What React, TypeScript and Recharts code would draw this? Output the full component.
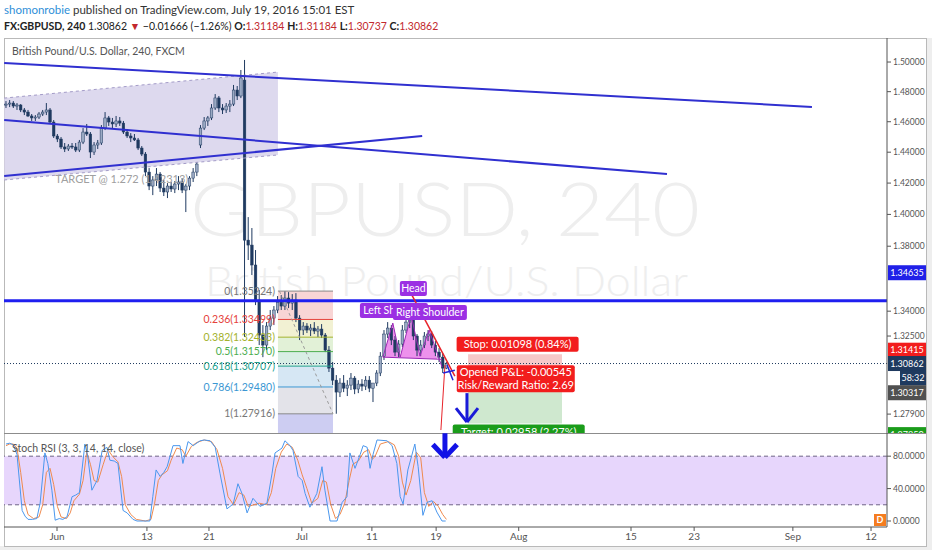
import React from 'react';
import {
  ComposedChart,
  Bar,
  Line,
  Area,
  XAxis,
  YAxis,
  ReferenceLine,
  ReferenceArea,
  ReferenceDot,
} from 'recharts';

const FONT = 'Lato, "Open Sans", sans-serif';

// 8h candles, slot = 1/3 of a trading day, from late May to Jul 19 2016
const candleOpen = [
  1.4711, 1.4717, 1.4724, 1.4704, 1.4711, 1.4678, 1.4664, 1.4638, 1.4625, 1.4631,
  1.4651, 1.4664, 1.4678, 1.4598, 1.4506, 1.4486, 1.4434, 1.4421, 1.444, 1.4434,
  1.4414, 1.4466, 1.4532, 1.4519, 1.4401, 1.4447, 1.446, 1.4558, 1.4625, 1.4598,
  1.4585, 1.4605, 1.4591, 1.4532, 1.4506, 1.4493, 1.448, 1.4427, 1.4388, 1.4271,
  1.4181, 1.422, 1.4258, 1.4168, 1.4143, 1.4181, 1.4162, 1.4194, 1.4207, 1.4155,
  1.4181, 1.4232, 1.4271, 1.4447, 1.4558, 1.4605, 1.4625, 1.4691, 1.4758, 1.4691,
  1.4678, 1.4704, 1.4717, 1.4811, 1.4771, 1.4878, 1.3838, 1.3807, 1.3683, 1.3468,
  1.3256, 1.3196, 1.331, 1.3358, 1.3407, 1.3455, 1.3431, 1.348, 1.3449, 1.3468,
  1.3358, 1.3286, 1.331, 1.3286, 1.3298, 1.328, 1.3292, 1.3256, 1.3166, 1.3059,
  1.2988, 1.2918, 1.2971, 1.2941, 1.2959, 1.3, 1.2936, 1.2965, 1.2953, 1.2988,
  1.2941, 1.2971, 1.303, 1.313, 1.3262, 1.3298, 1.3226, 1.3154, 1.3202, 1.3286,
  1.3334, 1.3346, 1.325, 1.3166, 1.3196, 1.325, 1.3262, 1.3196, 1.3154, 1.3124,
  1.3059,
];
const candleHigh = [
  1.4737, 1.4744, 1.4737, 1.4724, 1.4717, 1.4691, 1.4678, 1.4651, 1.4644, 1.4664,
  1.4678, 1.4724, 1.4691, 1.4611, 1.4519, 1.4499, 1.446, 1.4453, 1.446, 1.446,
  1.448, 1.4558, 1.4585, 1.4532, 1.4466, 1.448, 1.4578, 1.4664, 1.4638, 1.4625,
  1.4638, 1.4631, 1.4605, 1.4552, 1.4525, 1.4519, 1.4493, 1.444, 1.4401, 1.4297,
  1.4245, 1.4297, 1.4271, 1.422, 1.42, 1.4207, 1.4213, 1.4245, 1.4232, 1.4194,
  1.4245, 1.4297, 1.4336, 1.4578, 1.4631, 1.4638, 1.4717, 1.4784, 1.4771, 1.4717,
  1.4724, 1.4744, 1.4845, 1.4838, 1.4946, 1.5014, 1.3983, 1.3914, 1.3776, 1.3529,
  1.3316, 1.3334, 1.3407, 1.3431, 1.3492, 1.3498, 1.3522, 1.3516, 1.3504, 1.351,
  1.3376, 1.3334, 1.3328, 1.3322, 1.3334, 1.331, 1.3322, 1.3268, 1.319, 1.3095,
  1.3018, 1.3, 1.3018, 1.2988, 1.303, 1.3012, 1.2988, 1.2994, 1.3012, 1.3012,
  1.2965, 1.3047, 1.3154, 1.3286, 1.3334, 1.3316, 1.325, 1.3226, 1.3316, 1.3358,
  1.3376, 1.3364, 1.3262, 1.3226, 1.3274, 1.3286, 1.328, 1.322, 1.3178, 1.3148,
  1.3095,
];
const candleLow = [
  1.4691, 1.4697, 1.4691, 1.4678, 1.4664, 1.4644, 1.4631, 1.4605, 1.4605, 1.4618,
  1.4638, 1.4644, 1.4585, 1.4493, 1.4466, 1.4421, 1.4401, 1.4408, 1.4421, 1.4401,
  1.4401, 1.4453, 1.4506, 1.4362, 1.4382, 1.4421, 1.4447, 1.4545, 1.4572, 1.4558,
  1.4565, 1.4572, 1.4519, 1.4493, 1.4466, 1.4473, 1.4414, 1.4375, 1.4245, 1.4155,
  1.4123, 1.4181, 1.4143, 1.4117, 1.4104, 1.4143, 1.4136, 1.4155, 1.4136, 1.4015,
  1.4155, 1.4207, 1.4245, 1.4427, 1.4545, 1.4572, 1.4611, 1.4678, 1.4664, 1.4651,
  1.4658, 1.4664, 1.4704, 1.4744, 1.4757, 1.3244, 1.3714, 1.3621, 1.3437, 1.3196,
  1.3124, 1.3166, 1.3286, 1.3316, 1.3388, 1.3407, 1.3407, 1.3419, 1.3407, 1.3334,
  1.3226, 1.3256, 1.3268, 1.325, 1.3262, 1.3244, 1.3238, 1.3154, 1.3036, 1.2959,
  1.2792, 1.2889, 1.2918, 1.2895, 1.293, 1.2906, 1.2912, 1.2924, 1.293, 1.2918,
  1.286, 1.2953, 1.3012, 1.3107, 1.3238, 1.3196, 1.313, 1.3124, 1.3184, 1.3268,
  1.3298, 1.3226, 1.313, 1.313, 1.3178, 1.322, 1.3178, 1.313, 1.3095, 1.303,
  1.3053,
];
const candleClose = [
  1.4717, 1.4724, 1.4704, 1.4711, 1.4678, 1.4664, 1.4638, 1.4625, 1.4631, 1.4651,
  1.4664, 1.4678, 1.4598, 1.4506, 1.4486, 1.4434, 1.4421, 1.444, 1.4434, 1.4414,
  1.4466, 1.4532, 1.4519, 1.4401, 1.4447, 1.446, 1.4558, 1.4625, 1.4598, 1.4585,
  1.4605, 1.4591, 1.4532, 1.4506, 1.4493, 1.448, 1.4427, 1.4388, 1.4271, 1.4181,
  1.422, 1.4258, 1.4168, 1.4143, 1.4181, 1.4162, 1.4194, 1.4207, 1.4155, 1.4181,
  1.4232, 1.4271, 1.4323, 1.4558, 1.4605, 1.4625, 1.4691, 1.4758, 1.4691, 1.4678,
  1.4704, 1.4717, 1.4811, 1.4771, 1.4892, 1.3838, 1.3807, 1.3683, 1.3468, 1.3256,
  1.3196, 1.331, 1.3358, 1.3407, 1.3455, 1.3431, 1.348, 1.3449, 1.3468, 1.3358,
  1.3286, 1.331, 1.3286, 1.3298, 1.328, 1.3292, 1.3256, 1.3166, 1.3059, 1.2988,
  1.2918, 1.2971, 1.2941, 1.2959, 1.3, 1.2936, 1.2965, 1.2953, 1.2988, 1.2941,
  1.2971, 1.303, 1.313, 1.3262, 1.3298, 1.3226, 1.3154, 1.3202, 1.3286, 1.3334,
  1.3346, 1.325, 1.3166, 1.3196, 1.325, 1.3262, 1.3196, 1.3154, 1.3124, 1.3059,
  1.3086,
];

// Stoch RSI %K (blue) and %D (orange), [slot, value]
const stochK: [number, number][] = [
  [0, 95], [1, 96], [2, 94], [3, 82], [4.4, 13], [5.2, 6], [6, 2], [7.2, 2], [8.4, 3], [9.3, 22],
  [10.6, 84], [11.4, 71], [12.5, 38], [13.4, 1], [14.5, 3], [15.5, 2], [16.6, 5], [16.9, 10], [18, 30], [19, 32],
  [20, 35], [21.5, 95], [22.3, 79], [23.4, 38], [24.8, 50], [26.2, 87], [27.5, 91], [28.3, 75], [29.5, 74], [30.5, 71],
  [31.9, 13], [33, 10], [34.6, 2], [35.7, 0], [37.5, 0], [39.2, 0], [40, 30], [40.9, 63], [42, 55], [43, 60],
  [43.9, 67], [45.5, 93], [47.4, 93], [48.2, 71], [49.6, 98], [51, 93], [52.9, 99], [54, 100], [55.6, 99], [57, 91],
  [58.3, 59], [60.2, 15], [61.9, 21], [63.2, 46], [64.3, 34], [65.7, 10], [67.3, 28], [69.2, 18], [71.1, 22], [72.5, 59],
  [73.3, 84], [75.2, 90], [76, 99], [77.4, 93], [78.2, 87], [79.6, 55], [80.7, 50], [81.5, 34], [82.8, 17], [84.7, 34],
  [86.1, 67], [86.9, 38], [88.3, 0], [90.2, 0], [91.6, 23], [92.9, 30], [93.7, 84], [95.1, 65], [96.5, 82], [97.3, 93],
  [98.4, 91], [99.2, 65], [100, 82], [101.1, 100], [103.8, 99], [105.2, 93], [106.5, 71], [107.4, 30], [108.2, 21], [109.5, 63],
  [111.4, 95], [112.3, 67], [113.6, 7], [114.7, 23], [116.1, 25], [117.4, 11], [118.8, 0], [119.8, 0],
];
const stochD: [number, number][] = [
  [0, 93], [1, 95], [2, 95], [3, 90], [4, 60], [5, 25], [6, 8], [7.5, 3], [9, 5], [10, 20],
  [11, 60], [12, 65], [13, 45], [14, 18], [15, 5], [16.5, 3], [17.5, 10], [18.5, 25], [20, 33], [21, 50],
  [22, 85], [23, 70], [24, 50], [25, 48], [26.5, 70], [27.8, 88], [29, 80], [30.5, 73], [31.5, 55], [32.5, 20],
  [34, 8], [35.5, 2], [38, 0], [39.5, 2], [40.5, 22], [41.5, 50], [42.5, 57], [44, 62], [45, 75], [46.5, 90],
  [48, 88], [49, 80], [50.5, 92], [52, 97], [54, 100], [56, 98], [57.5, 88], [59, 65], [60.5, 30], [62, 20],
  [63.5, 35], [64.8, 32], [66, 18], [67.5, 20], [69, 22], [71, 20], [72.3, 35], [73.5, 65], [75, 85], [76.5, 95],
  [78, 91], [79.5, 75], [80.7, 57], [82, 40], [83.3, 22], [85, 28], [86.3, 50], [87.3, 48], [88.5, 20], [89.8, 3],
  [91, 8], [92.3, 22], [93.5, 50], [94.5, 70], [96, 74], [97.5, 85], [98.8, 88], [99.8, 76], [100.6, 80], [102, 95],
  [104.2, 98], [105.8, 94], [107, 80], [108, 48], [109, 32], [110.3, 50], [111.8, 85], [113, 78], [114, 35], [115.2, 18],
  [116.5, 24], [117.8, 18], [119, 8], [120, 2],
];

const timeTicks = [13.9, 38.4, 55.3, 80.6, 99.7, 117.2, 139.7, 170.3, 187.5, 214.4, 235.7];
const timeLabels = ['Jun', '13', '21', 'Jul', '11', '19', 'Aug', '15', '23', 'Sep', '12'];
const priceTicks = [1.5, 1.48, 1.46, 1.44, 1.42, 1.4, 1.38, 1.34, 1.325, 1.279];
const stochTicks = [0, 40, 80];

// drawings: [slot, price]
const trendLines: [number, number, number, number][] = [
  [-0.5, 1.4993, 219.6, 1.4698],
  [-0.5, 1.4611, 180.1, 1.4258],
  [-0.5, 1.4245, 113.4, 1.4506],
];
const channelTop: [number, number][] = [[-0.5, 1.4757], [74.1, 1.4932]];
const channelBottom: [number, number][] = [[-0.5, 1.422], [74.1, 1.4382]];
const keyLevel = 1.34635;
const lastPrice = 1.30862;

const fibRatios = ['0', '0.236', '0.382', '0.5', '0.618', '0.786', '1'];
const fibPrices = [1.35224, 1.33499, 1.32433, 1.3157, 1.30707, 1.2948, 1.27916];
const fibExt = 1.2593;
const fibColors = ['#8a8a8a', '#e5423b', '#a3b22c', '#4cae4f', '#22a18c', '#3b97d3', '#8a8a8a'];
const fibZones = ['#f8d5d5', '#f2f1d3', '#e2f1d7', '#d8eee5', '#d6e7f4', '#e3e3e9', '#cdcdf2'];
const fibFrom = 74.1;
const fibTo = 89.1;

// head & shoulders: start, left shoulder, dip, head, dip, right shoulder, end
const hsSlots = [102.7, 105.4, 107.4, 110.4, 112.8, 115.3, 118.8];
const hsPrices = [1.3124, 1.3328, 1.3124, 1.3376, 1.313, 1.3286, 1.3065];
const hsNeck = [1.3124, 1.3122, 1.3121, 1.3119, 1.3117, 1.3115, 1.3111];

const stopPrice = 1.31415;
const entryPrice = 1.30317;
const targetPrice = 1.2736;
const positionFrom = 125.9;
const positionTo = 151.5;

const candles = candleOpen.map((o, i) => ({
  i,
  o,
  h: candleHigh[i],
  l: candleLow[i],
  c: candleClose[i],
}));
const channelData = channelTop.map(([i, hi], k) => ({ i, band: [channelBottom[k][1], hi] }));
const hsFill = hsSlots.slice(0, 6).map((i, k) => ({ i, band: [hsNeck[k], hsPrices[k]] }));
hsFill.push({ i: 117.6, band: [1.3112, 1.3112] });
const hsLine = hsSlots.map((i, k) => ({ i, v: hsPrices[k] }));
const neckLine = [
  { i: hsSlots[0], v: hsNeck[0] },
  { i: hsSlots[6], v: hsNeck[6] },
];
const kData = stochK.map(([i, v]) => ({ i, v }));
const dData = stochD.map(([i, v]) => ({ i, v }));

const X_DOMAIN: [number, number] = [-0.545, 240.05];

function Candle(props: any) {
  const { x, y, width, height, payload } = props;
  if (!payload) return null;
  const { o, h, l, c } = payload;
  const yTop = Math.min(y, y + height);
  const yBot = Math.max(y, y + height);
  const span = Math.log(h) - Math.log(l) || 1;
  const py = (p: number) => yTop + ((yBot - yTop) * (Math.log(h) - Math.log(p))) / span;
  const cx = x + width / 2;
  const up = c >= o;
  const t = py(Math.max(o, c));
  const b = py(Math.min(o, c));
  return (
    <g>
      <line x1={cx} x2={cx} y1={yTop} y2={yBot} stroke="#1f3a60" strokeWidth={1} />
      <rect
        x={cx - 1.3}
        y={t}
        width={2.6}
        height={Math.max(b - t, 1)}
        fill={up ? '#9aa9c3' : '#1f3a60'}
        stroke="#1f3a60"
        strokeWidth={0.5}
      />
    </g>
  );
}

function box(lines: string[], bg: string, w: number, h: number, dy: number, fs = 11) {
  return (p: any) => {
    const cx = p.cx;
    const cy = p.cy + dy;
    return (
      <g>
        <rect x={cx - w / 2} y={cy - h / 2} width={w} height={h} rx={2} fill={bg} />
        {lines.map((t, k) => (
          <text
            key={k}
            x={cx}
            y={cy - h / 2 + ((k + 0.5) * h) / lines.length}
            dy="0.35em"
            textAnchor="middle"
            fill="#fff"
            fontSize={fs}
            fontFamily={FONT}
          >
            {t}
          </text>
        ))}
      </g>
    );
  };
}

function axisTag(text: string, bg: string, dy: number, w = 38) {
  return (p: any) => {
    const x0 = p.cx + 39 - w;
    const cy = p.cy + dy;
    return (
      <g>
        <rect x={x0} y={cy - 7.5} width={w} height={15} fill={bg} />
        <text x={x0 + w / 2} y={cy} dy="0.35em" textAnchor="middle" fill="#fff" fontSize={9} fontFamily={FONT}>
          {text}
        </text>
      </g>
    );
  };
}

function fibLabel(text: string, color: string) {
  return (p: any) => (
    <text x={p.cx - 3} y={p.cy} dy="0.35em" textAnchor="end" fill={color} fontSize={10.5} fontFamily={FONT}>
      {text}
    </text>
  );
}

const seg = (a: number, b: number, c: number, d: number) => [
  { x: a, y: b },
  { x: c, y: d },
];

function MainChart() {
  return (
    <ComposedChart width={922} height={395} data={candles} margin={{ top: 0, right: 0, bottom: 0, left: 0 }}>
      <XAxis dataKey="i" type="number" domain={X_DOMAIN} allowDataOverflow hide />
      <YAxis
        orientation="right"
        scale="log"
        domain={[1.2681, 1.5164]}
        allowDataOverflow
        ticks={priceTicks}
        interval={0}
        width={39}
        tickFormatter={(v: number) => v.toFixed(5)}
        tick={{ fontSize: 8.5, fill: '#555', fontFamily: FONT }}
        tickSize={4}
        tickLine={{ stroke: '#555' }}
        axisLine={{ stroke: '#555' }}
      />

      <Area
        data={channelData}
        dataKey="band"
        type="linear"
        stroke="none"
        fill="#d9d5ec"
        fillOpacity={0.9}
        isAnimationActive={false}
      />
      {fibZones.map((col, k) => (
        <ReferenceArea
          key={`fz${k}`}
          x1={fibFrom}
          x2={fibTo}
          y1={fibPrices[k]}
          y2={k < 6 ? fibPrices[k + 1] : fibExt}
          fill={col}
          fillOpacity={1}
          stroke="none"
          ifOverflow="hidden"
        />
      ))}
      <ReferenceArea x1={positionFrom} x2={positionTo} y1={entryPrice} y2={stopPrice} fill="#f6c9c9" fillOpacity={1} stroke="none" />
      <ReferenceArea x1={positionFrom} x2={positionTo} y1={targetPrice} y2={entryPrice} fill="#cfe8cf" fillOpacity={1} stroke="none" />

      <ReferenceLine segment={seg(channelTop[0][0], channelTop[0][1], channelTop[1][0], channelTop[1][1])} stroke="#a49cc8" strokeDasharray="3 3" ifOverflow="hidden" />
      <ReferenceLine segment={seg(channelBottom[0][0], channelBottom[0][1], channelBottom[1][0], channelBottom[1][1])} stroke="#a49cc8" strokeDasharray="3 3" ifOverflow="hidden" />

      <ReferenceDot
        x={13.4}
        y={1.4226}
        ifOverflow="visible"
        shape={(p: any) => (
          <text x={p.cx} y={p.cy} dy="0.35em" fill="#a0a0a0" fontSize={11} fontFamily={FONT}>
            TARGET @ 1.272 (1.42313)
          </text>
        )}
      />

      {fibPrices.map((p, k) => (
        <ReferenceLine key={`fl${k}`} segment={seg(fibFrom, p, fibTo, p)} stroke={fibColors[k]} strokeWidth={1} ifOverflow="hidden" />
      ))}

      <Bar dataKey={(d: any) => [d.l, d.h]} barSize={3} shape={Candle} isAnimationActive={false} />

      {trendLines.map(([a, b, c, d], k) => (
        <ReferenceLine key={`tl${k}`} segment={seg(a, b, c, d)} stroke="#3030d0" strokeWidth={2} ifOverflow="hidden" />
      ))}
      <ReferenceLine y={keyLevel} stroke="#1f1ff0" strokeWidth={3} />
      <ReferenceLine y={lastPrice} stroke="#1f3a5f" strokeDasharray="1 2" />

      <ReferenceLine segment={seg(74.5, fibPrices[0], fibTo, fibPrices[6])} stroke="#9a9a9a" strokeDasharray="3 3" ifOverflow="hidden" />
      {fibPrices.map((p, k) => (
        <ReferenceDot
          key={`fb${k}`}
          x={fibFrom}
          y={p}
          ifOverflow="visible"
          shape={fibLabel(`${fibRatios[k]}(${p.toFixed(5)})`, fibColors[k] === '#8a8a8a' ? '#777' : fibColors[k])}
        />
      ))}

      <Area
        data={hsFill}
        dataKey="band"
        type="linear"
        stroke="none"
        fill="#ea7ee9"
        fillOpacity={0.85}
        isAnimationActive={false}
      />
      <Line data={hsLine} dataKey="v" type="linear" stroke="#9b27b5" strokeWidth={1} dot={false} isAnimationActive={false} />
      <Line data={neckLine} dataKey="v" type="linear" stroke="#9b27b5" strokeWidth={1} dot={false} isAnimationActive={false} />

      <ReferenceLine segment={seg(110.6, 1.3498, 122.3, 1.3012)} stroke="#e8232a" strokeWidth={1.5} ifOverflow="hidden" />
      <ReferenceLine segment={seg(119.6, 1.3077, 118.5, 1.2698)} stroke="#e8232a" strokeWidth={1} ifOverflow="hidden" />
      <ReferenceLine segment={seg(119.1, 1.303, 122.3, 1.3047)} stroke="#2323d8" strokeWidth={1.5} ifOverflow="hidden" />
      <ReferenceLine segment={seg(120.2, 1.3077, 121.8, 1.2988)} stroke="#2323d8" strokeWidth={1.5} ifOverflow="hidden" />
      <ReferenceLine segment={seg(125.6, 1.2912, 125.6, 1.2748)} stroke="#1a1ad8" strokeWidth={3} ifOverflow="hidden" />
      <ReferenceLine segment={seg(122.6, 1.2825, 125.6, 1.2744)} stroke="#1a1ad8" strokeWidth={3} ifOverflow="hidden" />
      <ReferenceLine segment={seg(128.6, 1.2825, 125.6, 1.2744)} stroke="#1a1ad8" strokeWidth={3} ifOverflow="hidden" />

      <ReferenceDot x={111.0} y={1.3538} ifOverflow="visible" shape={box(['Head'], '#9b2fe3', 27, 15, 0, 10.5)} />
      <ReferenceDot x={105.7} y={1.3404} ifOverflow="visible" shape={box(['Left Shoulder'], '#9b2fe3', 68, 15, 0, 10.5)} />
      <ReferenceDot x={115.5} y={1.3392} ifOverflow="visible" shape={box(['Right Shoulder'], '#9b2fe3', 74, 15, 0, 10.5)} />

      <ReferenceDot x={139.4} y={stopPrice} ifOverflow="visible" shape={box(['Stop: 0.01098 (0.84%)'], '#f21d1d', 122, 15, -10)} />
      <ReferenceDot
        x={138.9}
        y={entryPrice}
        ifOverflow="visible"
        shape={box(['Opened P&L: -0.00545', 'Risk/Reward Ratio: 2.69'], '#f21d1d', 118, 27, 6)}
      />
      <ReferenceDot x={139.7} y={targetPrice} ifOverflow="visible" shape={box(['Target: 0.02958 (2.27%)'], '#1a9c1a', 132, 16, 9)} />

      <ReferenceDot x={X_DOMAIN[1]} y={keyLevel} ifOverflow="visible" shape={axisTag('1.34635', '#2020e8', -28)} />
      <ReferenceDot x={X_DOMAIN[1]} y={stopPrice} ifOverflow="visible" shape={axisTag('1.31415', '#f21d1d', -4)} />
      <ReferenceDot x={X_DOMAIN[1]} y={lastPrice} ifOverflow="visible" shape={axisTag('1.30862', '#1f3a5f', 0)} />
      <ReferenceDot x={X_DOMAIN[1]} y={lastPrice} ifOverflow="visible" shape={axisTag('58:32', '#1f3a5f', 14.5, 26)} />
      <ReferenceDot x={X_DOMAIN[1]} y={entryPrice} ifOverflow="visible" shape={axisTag('1.30317', '#505050', 20)} />
      <ReferenceDot x={X_DOMAIN[1]} y={1.2735} ifOverflow="visible" shape={axisTag('1.27350', '#1a9c1a', 11)} />
    </ComposedChart>
  );
}

function StochChart() {
  return (
    <ComposedChart width={922} height={112} margin={{ top: 0, right: 0, bottom: 0, left: 0 }}>
      <XAxis
        dataKey="i"
        type="number"
        domain={X_DOMAIN}
        allowDataOverflow
        ticks={timeTicks}
        interval={0}
        tickFormatter={(v: number) => timeLabels[timeTicks.indexOf(v)]}
        height={18}
        tickSize={4}
        tick={{ fontSize: 10, fill: '#555', fontFamily: FONT }}
        tickLine={{ stroke: '#555' }}
        axisLine={{ stroke: '#555' }}
      />
      <YAxis
        orientation="right"
        domain={[-7.4, 108.6]}
        allowDataOverflow
        ticks={stochTicks}
        interval={0}
        width={39}
        tickFormatter={(v: number) => v.toFixed(4)}
        tick={{ fontSize: 8.5, fill: '#555', fontFamily: FONT }}
        tickSize={4}
        tickLine={{ stroke: '#555' }}
        axisLine={{ stroke: '#555' }}
      />
      <ReferenceArea y1={20} y2={80} fill="#e7d6fc" fillOpacity={1} stroke="none" />
      <ReferenceLine y={80} stroke="#6e6486" strokeDasharray="4 3" />
      <ReferenceLine y={20} stroke="#6e6486" strokeDasharray="4 3" />
      <Line data={dData} dataKey="v" type="linear" stroke="#ef8a4e" strokeWidth={1} dot={false} isAnimationActive={false} />
      <Line data={kData} dataKey="v" type="linear" stroke="#4a97ee" strokeWidth={1} dot={false} isAnimationActive={false} />
      <ReferenceLine segment={seg(119.6, 108.3, 119.6, 80)} stroke="#1212e6" strokeWidth={5} ifOverflow="hidden" />
      <ReferenceLine segment={seg(116.3, 94.5, 119.6, 78.5)} stroke="#1212e6" strokeWidth={5} ifOverflow="hidden" />
      <ReferenceLine segment={seg(122.9, 94.5, 119.6, 78.5)} stroke="#1212e6" strokeWidth={5} ifOverflow="hidden" />
    </ComposedChart>
  );
}

export default function App() {
  const red = { color: '#c2282d' };
  return (
    <div
      style={{
        position: 'fixed',
        left: 0,
        top: 0,
        width: 932,
        height: 550,
        background: '#fff',
        fontFamily: FONT,
        overflow: 'hidden',
      }}
    >
      <div style={{ position: 'absolute', left: 927, top: 38, width: 5, height: 512, background: '#eeeeee' }} />
      <div style={{ position: 'absolute', left: 0, top: 546, width: 932, height: 4, background: '#eeeeee' }} />

      {/* watermark */}
      <svg width={932} height={550} style={{ position: 'absolute', left: 0, top: 0 }}>
        <text x={190} y={236} fontSize={74} fontWeight={300} fill="#eeeeee" fontFamily={FONT} textLength={510} lengthAdjust="spacingAndGlyphs">
          GBPUSD, 240
        </text>
        <text x={205} y={296} fontSize={42} fontWeight={300} fill="#eeeeee" fontFamily={FONT} textLength={483} lengthAdjust="spacingAndGlyphs">
          British Pound/U.S. Dollar
        </text>
      </svg>

      <div style={{ position: 'absolute', left: 4, top: 2, fontSize: 11.5, lineHeight: '16px', color: '#333', whiteSpace: 'nowrap' }}>
        <span style={{ color: '#2f8fd8' }}>shomonrobie</span> published on TradingView.com, July 19, 2016 15:01 EST
      </div>
      <div style={{ position: 'absolute', left: 4, top: 18, fontSize: 10.5, lineHeight: '16px', color: '#222', whiteSpace: 'nowrap' }}>
        <b>FX:GBPUSD, 240</b> 1.30862 <span style={red}>▼</span> −0.01666 (−1.26%) <b>O:</b>
        <span style={red}>1.31184</span> <b>H:</b>
        <span style={red}>1.31184</span> <b>L:</b>
        <span style={red}>1.30737</span> <b>C:</b>
        <span style={red}>1.30862</span>
      </div>

      <div
        style={{
          position: 'absolute',
          left: 4,
          top: 38,
          width: 921,
          height: 507,
          border: '1px solid #b9b9b9',
          boxSizing: 'content-box',
        }}
      />

      <div style={{ position: 'absolute', left: 4, top: 38 }}>
        <MainChart />
      </div>
      <div style={{ position: 'absolute', left: 4, top: 433, width: 922, height: 1, background: '#8c8c8c' }} />
      <div style={{ position: 'absolute', left: 4, top: 433 }}>
        <StochChart />
      </div>

      <div style={{ position: 'absolute', left: 12, top: 45, fontSize: 10.5, color: '#555', whiteSpace: 'nowrap' }}>
        British Pound/U.S. Dollar, 240, FXCM
      </div>
      <div style={{ position: 'absolute', left: 12, top: 442, fontSize: 10.5, color: '#555', whiteSpace: 'nowrap' }}>
        Stoch RSI (3, 3, 14, 14, close)
      </div>
      <div
        style={{
          position: 'absolute',
          left: 874,
          top: 514,
          width: 12,
          height: 12,
          background: '#f57c1f',
          color: '#fff',
          fontSize: 9,
          lineHeight: '12px',
          textAlign: 'center',
          fontWeight: 700,
        }}
      >
        D
      </div>
    </div>
  );
}
